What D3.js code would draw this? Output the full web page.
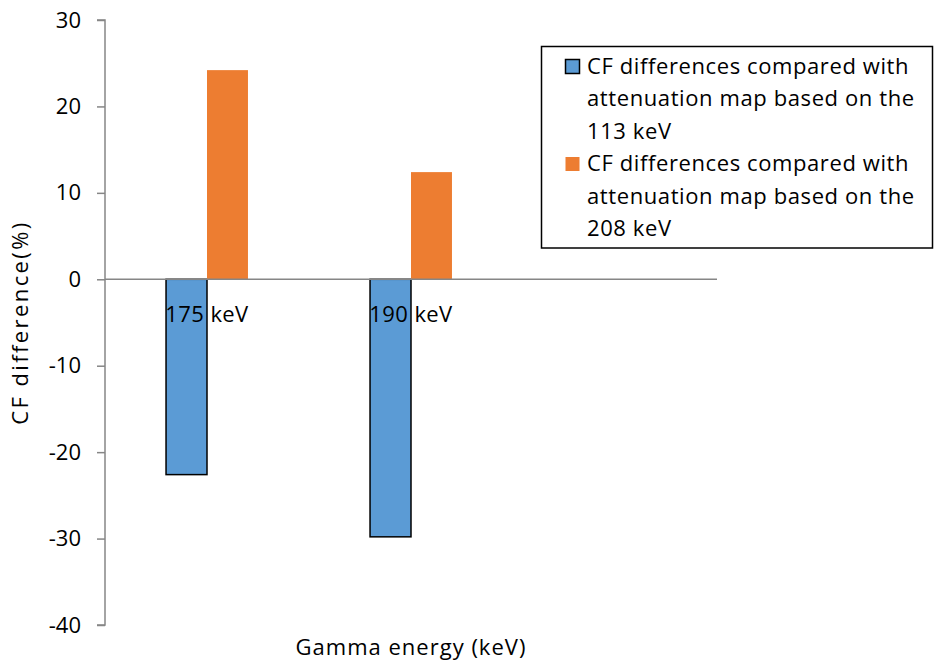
<!DOCTYPE html>
<html>
<head>
<meta charset="utf-8">
<script src="https://cdn.jsdelivr.net/npm/d3@7"></script>
<style>
  html, body { margin: 0; padding: 0; background: #fff; }
  svg { display: block; font-family: "Open Sans", Lato, sans-serif; }
</style>
</head>
<body>
<svg id="chart" width="934" height="661"></svg>
<script>
// Categories along the x axis (third slot left empty)
const categories = ["175 keV", "190 keV", ""];
// Series: CF difference (%) for each gamma energy
const seriesNames = [
  "CF differences compared with attenuation map based on the 113 keV",
  "CF differences compared with attenuation map based on the 208 keV"
];
const series113 = [-22.6, -29.8, null];
const series208 = [24.2, 12.4, null];
const yTicks = [-40, -30, -20, -10, 0, 10, 20, 30];
const legendLines = [
  ["CF differences compared with", "attenuation map based on the", "113 keV"],
  ["CF differences compared with", "attenuation map based on the", "208 keV"]
];
const colors = ["#5B9BD5", "#ED7D31"];

const FONT = "'Open Sans', Lato, sans-serif";

const svg = d3.select("#chart");
const plot = { left: 105, right: 717, top: 20, bottom: 625 };

const y = d3.scaleLinear().domain([-40, 30]).range([plot.bottom, plot.top]);
const x0 = d3.scaleBand().domain(categories).range([plot.left, plot.right]).padding(0);
const x1 = d3.scaleBand().domain([0, 1]).range([0, x0.bandwidth()])
  .paddingInner(0).paddingOuter(1.49);

const rows = categories.map((c, i) => ({ cat: c, vals: [series113[i], series208[i]] }));

// Bars
const groups = svg.append("g").selectAll("g").data(rows).join("g")
  .attr("transform", d => `translate(${x0(d.cat)},0)`);
groups.selectAll("rect")
  .data(d => d.vals.map((v, k) => ({ v, k })).filter(e => e.v !== null))
  .join("rect")
  .attr("x", e => x1(e.k))
  .attr("width", x1.bandwidth())
  .attr("y", e => y(Math.max(0, e.v)))
  .attr("height", e => Math.abs(y(e.v) - y(0)))
  .attr("fill", e => colors[e.k])
  .attr("stroke", e => e.k === 0 ? "#000" : "none")
  .attr("stroke-width", 1.5);

// Y axis (plain hyphen for negatives)
const yAxis = d3.axisLeft(y).tickValues(yTicks).tickSize(8).tickPadding(16)
  .tickFormat(d => String(d));
const gy = svg.append("g").attr("transform", `translate(${plot.left},0)`).call(yAxis);
gy.select(".domain").attr("stroke", "#868686").attr("stroke-width", 1.5)
  .attr("d", `M-8,${plot.top}H0V${plot.bottom}H-8`);
gy.selectAll(".tick line").attr("stroke", "#868686").attr("stroke-width", 1.5);
gy.selectAll(".tick text").attr("font-size", 22).attr("fill", "#000")
  .attr("font-family", FONT);

// Zero baseline (category axis)
svg.append("line")
  .attr("x1", plot.left).attr("x2", plot.right)
  .attr("y1", y(0)).attr("y2", y(0))
  .attr("stroke", "#868686").attr("stroke-width", 1.5);

// Category labels just under the baseline
svg.append("g").selectAll("text").data(categories).join("text")
  .attr("x", d => x0(d) + x0.bandwidth() / 2)
  .attr("y", y(0) + 43)
  .attr("text-anchor", "middle")
  .attr("font-size", 22)
  .attr("letter-spacing", 0.4)
  .attr("fill", "#000")
  .text(d => d);

// Axis titles
svg.append("text")
  .attr("x", 411)
  .attr("y", 655)
  .attr("text-anchor", "middle")
  .attr("font-size", 22)
  .attr("letter-spacing", 1)
  .text("Gamma energy (keV)");

svg.append("text")
  .attr("transform", `translate(28,${y(-5)}) rotate(-90)`)
  .attr("text-anchor", "middle")
  .attr("font-size", 22)
  .attr("letter-spacing", 2.4)
  .text("CF difference(%)");

// Legend
const legend = svg.append("g");
legend.append("rect")
  .attr("x", 541.5).attr("y", 46.5).attr("width", 391).attr("height", 201.5)
  .attr("fill", "#fff").attr("stroke", "#000").attr("stroke-width", 1.5);
const lineH = 32.5;
seriesNames.forEach((name, k) => {
  const base = 73.5 + k * 3 * lineH;
  legend.append("rect")
    .attr("x", 565.5).attr("y", base - 14).attr("width", 14).attr("height", 14)
    .attr("fill", colors[k])
    .attr("stroke", k === 0 ? "#000" : "none").attr("stroke-width", 1.5);
  legendLines[k].forEach((ln, j) => {
    legend.append("text")
      .attr("x", 587).attr("y", base + j * lineH)
      .attr("font-size", 22).attr("letter-spacing", 0.6).attr("fill", "#000")
      .text(ln);
  });
});
</script>
</body>
</html>
